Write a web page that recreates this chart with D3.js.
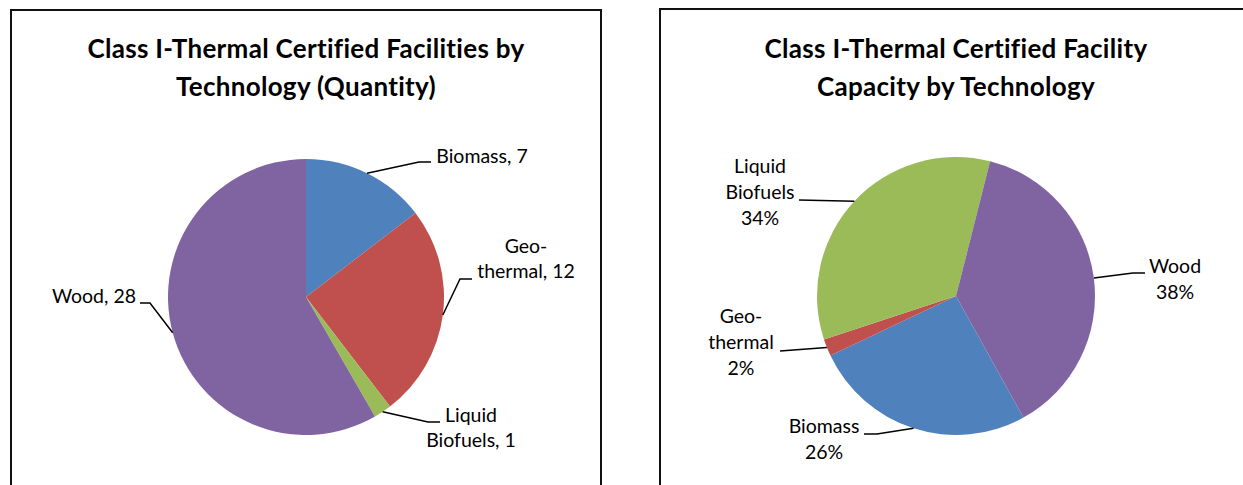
<!DOCTYPE html>
<html>
<head>
<meta charset="utf-8">
<script src="https://cdn.jsdelivr.net/npm/d3@7"></script>
<style>
  body { margin: 0; background: #fff; }
  svg { display: block; font-family: Lato, "Open Sans", sans-serif; }
</style>
</head>
<body>
<div id="charts"></div>
<script>
const FRAME_WIDTH = 1243;
const FRAME_HEIGHT = 485;

// data
const CATEGORIES = ["Biomass", "Geothermal", "Liquid Biofuels", "Wood"];
const LABEL_NAMES = [["Biomass"], ["Geo-", "thermal"], ["Liquid", "Biofuels"], ["Wood"]];
const QUANTITY = [7, 12, 1, 28];
const CAPACITY_PCT = [26, 2, 34, 38];
const COLORS = ["#4F81BD", "#C0504D", "#9BBB59", "#8064A2"];

const TITLE_LEFT = ["Class I-Thermal Certified Facilities by", "Technology (Quantity)"];
const TITLE_RIGHT = ["Class I-Thermal Certified Facility", "Capacity by Technology"];

// label placement, relative to pie centre: text centre x, first baseline y, elbow, line end
const LAYOUT_LEFT = [
  {tx: 176, ty: -134, elbow: [113, -135], end: [125, -135]},
  {tx: 220, ty: -44, elbow: [154, -18], end: [166, -18]},
  {tx: 165, ty: 125, elbow: [122, 125], end: [134, 125]},
  {tx: -212, ty: 6, elbow: [-156, 6], end: [-166, 6]}
];
const LAYOUT_RIGHT = [
  {tx: -132, ty: 137, elbow: [-79, 138], end: [-92, 138]},
  {tx: -215, ty: 27, elbow: [-176, 55], end: [-176, 55]},
  {tx: -196, ty: -123, elbow: [-157, -96], end: [-157, -96]},
  {tx: 219, ty: -23, elbow: [177, -23], end: [189, -23]}
];

const SVG = d3.select("#charts")
              .append("svg")
                .attr("width", FRAME_WIDTH)
                .attr("height", FRAME_HEIGHT);

function draw_pie(opts) {
  const G = SVG.append("g");

  // chart frame
  G.append("rect")
     .attr("x", opts.box[0])
     .attr("y", opts.box[1])
     .attr("width", opts.box[2])
     .attr("height", opts.box[3])
     .attr("fill", "#fff")
     .attr("stroke", "#111")
     .attr("stroke-width", 2);

  // title
  G.append("text")
     .attr("x", opts.cx)
     .attr("text-anchor", "middle")
     .attr("font-size", "26px")
     .attr("letter-spacing", "0.3px")
     .attr("font-weight", "bold")
     .attr("fill", "#000")
     .selectAll("tspan")
     .data(opts.title)
     .enter()
     .append("tspan")
       .attr("x", opts.cx)
       .attr("y", (d, i) => 58 + i * 38)
       .text((d) => d);

  const data = CATEGORIES.map((c, i) => ({name: c, lines: LABEL_NAMES[i], value: opts.values[i], i: i}));

  const PIE = d3.pie()
                .sort(null)
                .value((d) => d.value)
                .startAngle(opts.start * Math.PI / 180)
                .endAngle(opts.start * Math.PI / 180 + 2 * Math.PI);
  const ARC = d3.arc().innerRadius(0).outerRadius(opts.r);
  const arcs = PIE(data);

  const P = G.append("g").attr("transform", "translate(" + opts.cx + "," + opts.cy + ")");

  P.selectAll(".slice")
     .data(arcs)
     .enter()
     .append("path")
       .attr("class", "slice")
       .attr("d", ARC)
       .attr("fill", (d) => COLORS[d.data.i]);

  // leader lines from slice edge midpoint
  P.selectAll(".leader")
     .data(arcs)
     .enter()
     .append("polyline")
       .attr("class", "leader")
       .attr("fill", "none")
       .attr("stroke", "#000")
       .attr("stroke-width", 1.5)
       .attr("points", (d) => {
         const a = (d.startAngle + d.endAngle) / 2;
         const L = opts.layout[d.data.i];
         const p0 = [opts.r * Math.sin(a), -opts.r * Math.cos(a)];
         return [p0, L.elbow, L.end].map((p) => p.join(",")).join(" ");
       });

  const labels = P.selectAll(".label")
     .data(arcs)
     .enter()
     .append("text")
       .attr("class", "label")
       .attr("text-anchor", "middle")
       .attr("font-size", "19.5px")
       .attr("fill", "#000");

  labels.selectAll("tspan")
     .data((d) => opts.format(d.data).map((t) => ({t: t, L: opts.layout[d.data.i]})))
     .enter()
     .append("tspan")
       .attr("x", (d) => d.L.tx)
       .attr("y", (d, i) => d.L.ty + i * opts.lineH)
       .text((d) => d.t);
}

draw_pie({
  box: [11, 10, 590, 500],
  cx: 306, cy: 297, r: 138, start: 0,
  title: TITLE_LEFT,
  values: QUANTITY,
  layout: LAYOUT_LEFT,
  lineH: 25,
  format: (d) => {
    const lines = d.lines.slice();
    lines[lines.length - 1] += ", " + d.value;
    return lines;
  }
});

draw_pie({
  box: [660, 9, 600, 500],
  cx: 956, cy: 296, r: 139, start: 151,
  title: TITLE_RIGHT,
  values: CAPACITY_PCT,
  layout: LAYOUT_RIGHT,
  lineH: 26,
  format: (d) => d.lines.concat([d.value + "%"])
});
</script>
</body>
</html>
